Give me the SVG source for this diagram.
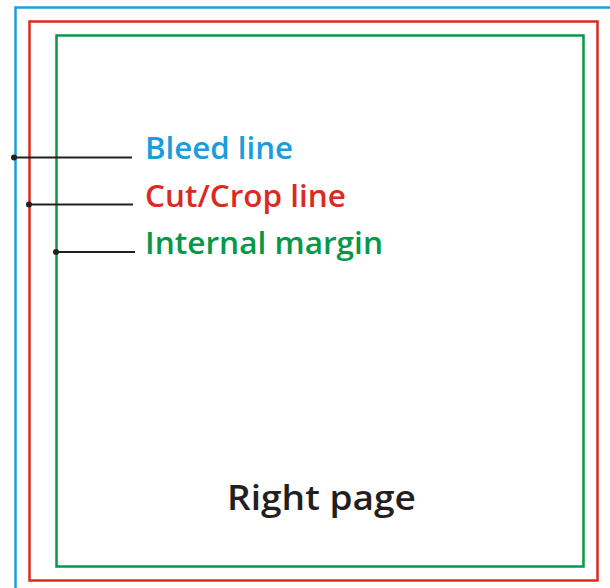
<svg xmlns="http://www.w3.org/2000/svg" width="610" height="588" viewBox="0 0 610 588">
<style>
.frame{fill:none;stroke-width:2.5}
.lead{stroke:#231f20;stroke-width:2}
.dot{fill:#231f20}
.lbl{font-family:"Open Sans","Liberation Sans",sans-serif;font-weight:600;font-size:31px}
</style>
<rect width="610" height="588" fill="#fff"/>
<g id="bleed">
<path class="frame" stroke="#1a9ddb" d="M15.5,590 V7.5 H612"/>
</g>
<g id="cut">
<rect class="frame" stroke="#dc2a22" x="29.5" y="21.5" width="568" height="559"/>
</g>
<g id="margin">
<rect class="frame" stroke="#069747" x="56.5" y="35.5" width="527" height="531"/>
</g>
<g id="connectors">
<line class="lead" x1="14" y1="157.5" x2="132" y2="157.5"/>
<circle class="dot" cx="14" cy="157.5" r="3"/>
<line class="lead" x1="29" y1="204.5" x2="133" y2="204.5"/>
<circle class="dot" cx="29" cy="204.5" r="3"/>
<line class="lead" x1="56" y1="252" x2="135" y2="252"/>
<circle class="dot" cx="56" cy="252" r="3"/>
</g>
<g id="labels">
<text class="lbl" x="145" y="159" fill="#1a9ddb" textLength="148" lengthAdjust="spacingAndGlyphs">Bleed line</text>
<text class="lbl" x="145" y="206.5" fill="#dc2a22" textLength="201" lengthAdjust="spacingAndGlyphs">Cut/Crop line</text>
<text class="lbl" x="145" y="253.5" fill="#069747" textLength="238" lengthAdjust="spacingAndGlyphs">Internal margin</text>
</g>
<g id="right-page">
<text x="227" y="510" font-family="'Open Sans','Liberation Sans',sans-serif" font-weight="600" font-size="35" fill="#231f20" textLength="189" lengthAdjust="spacingAndGlyphs">Right page</text>
</g>
</svg>
